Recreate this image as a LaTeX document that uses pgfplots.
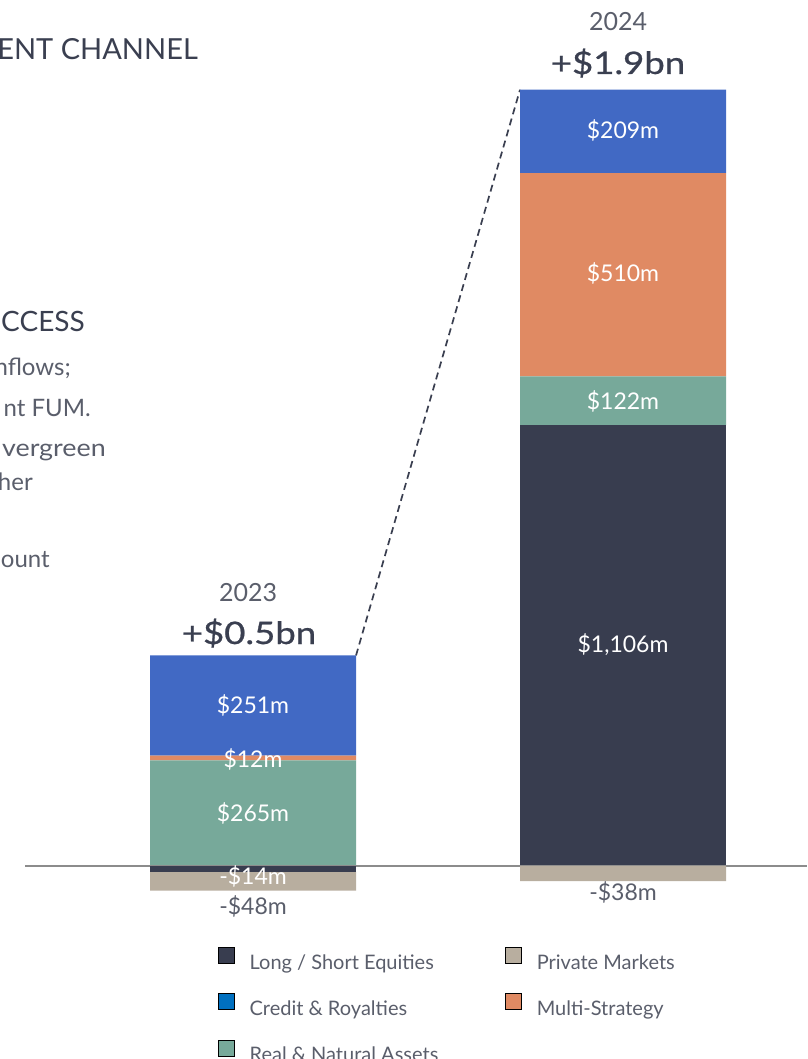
\documentclass[border=0pt]{standalone}
\usepackage{fontspec}
\setmainfont{Lato}
\newfontfamily\titlefont[FakeStretch=1.18, FakeBold=0.8]{Lato}
\newfontfamily\widebody[FakeStretch=1.12]{Lato}
\usepackage{pgfplots}
\usepackage{pgfplotstable}
\pgfplotsset{compat=1.18}
\definecolor{lsdark}{HTML}{383D4F}
\definecolor{credit}{HTML}{4169C4}
\definecolor{creditleg}{HTML}{0070C0}
\definecolor{multi}{HTML}{E08A63}
\definecolor{real}{HTML}{77A99A}
\definecolor{private}{HTML}{B8AE9F}
\definecolor{txtdark}{HTML}{3A3F50}
\definecolor{txtgrey}{HTML}{5A5E6B}
\definecolor{zeroline}{HTML}{8C8C8C}

% positive part of each stack (from 0 upward)
\pgfplotstableread{
x ls real multi credit
0 0 265 12 251
1 1106 122 510 209
}\postable
% negative part of each stack (from 0 downward)
\pgfplotstableread{
x ls private
0 -14 -48
1 0 -38
}\negtable

\pgfplotsset{base/.style={
  scale only axis, width=807pt, height=1059pt,
  xmin=-0.68378, xmax=1.49730, ymin=-484.1, ymax=2172.1,
  hide axis, ybar stacked, bar width=0.55676, clip=false}}

\begin{document}
\begin{tikzpicture}
\begin{axis}[base,
  legend columns=2,
  legend cell align=left,
  legend image code/.code={\fill[#1] (0pt,0pt) rectangle (16pt,16pt);},
  legend style={at={(0.27014,0.10576)}, anchor=north west, draw=none, fill=none,
    font=\fontsize{20}{24}\selectfont, text=txtgrey, inner sep=0pt,
    nodes={inner xsep=0pt, inner ysep=0pt, text height=16pt, text depth=4pt},
    /tikz/every odd column/.append style={column sep=15pt},
    /tikz/every even column/.append style={column sep=67pt}},
  legend style={row sep=20pt}]
  \draw[zeroline, line width=2pt] (axis cs:-0.6162,0) -- (axis cs:1.4973,0);
  \addplot[fill=lsdark, draw=none, forget plot] table[x=x,y=ls]{\postable};
  \addplot[fill=real, draw=none, forget plot] table[x=x,y=real]{\postable};
  \addplot[fill=multi, draw=none, forget plot] table[x=x,y=multi]{\postable};
  \addplot[fill=credit, draw=none, forget plot] table[x=x,y=credit]{\postable};
  \draw[txtdark, line width=1.7pt, dash pattern=on 7pt off 4.5pt]
    (axis cs:0.2784,528) -- (axis cs:0.7216,1947);
  \addlegendimage{fill=lsdark}
  \addlegendentry{Long / Short Equities}
  \addlegendimage{fill=private}
  \addlegendentry{Private Markets}
  \addlegendimage{fill=creditleg}
  \addlegendentry{Credit \& Royalties}
  \addlegendimage{fill=multi}
  \addlegendentry{Multi-Strategy}
  \addlegendimage{fill=real}
  \addlegendentry{Real \& Natural Assets}
\end{axis}
\begin{axis}[base]
  \addplot[fill=lsdark, draw=none] table[x=x,y=ls]{\negtable};
  \addplot[fill=private, draw=none] table[x=x,y=private]{\negtable};
\end{axis}
\pgfresetboundingbox
\path[use as bounding box] (current axis.south west) rectangle (current axis.north east);
\begin{scope}[shift={(current axis.north west)}, x=1pt, y=-1pt]
  % cropped slide text on the left
  \node[anchor=base east, text=txtdark, font=\fontsize{29}{33}\selectfont, inner sep=0pt] at (198,60) {ENT CHANNEL};
  \node[anchor=base east, text=txtdark, font=\fontsize{28}{32}\selectfont, inner sep=0pt] at (85,332) {CCESS};
  \begin{scope}[every node/.style={anchor=base east, text=txtgrey, font=\fontsize{24}{28}\selectfont, inner sep=0pt}]
    \node at (71,376) {nflows;};
    \node at (91,417) {nt FUM.};
    \node[font=\fontsize{24}{28}\widebody] at (106,456) {vergreen};
    \node at (33,490) {her};
    \node at (50,567) {ount};
  \end{scope}
  % years and totals
  \node[anchor=base, text=txtgrey, font=\fontsize{25}{30}\selectfont, inner sep=0pt] at (248,601) {2023};
  \node[anchor=base, text=txtdark, font=\fontsize{31}{36}\titlefont, inner sep=0pt] at (249,644) {+\$0.5bn};
  \node[anchor=base, text=txtgrey, font=\fontsize{25}{30}\selectfont, inner sep=0pt] at (618,31) {2024};
  \node[anchor=base, text=txtdark, font=\fontsize{31}{36}\titlefont, inner sep=0pt] at (618,74) {+\$1.9bn};
  % segment labels
  \begin{scope}[every node/.style={text=white, font=\fontsize{23}{27}\selectfont, inner sep=0pt}]
    \node at (623,130) {\$209m};
    \node at (623,273) {\$510m};
    \node at (623,401) {\$122m};
    \node at (623,645) {\$1,106m};
    \node at (253,705) {\$251m};
    \node at (253,759) {\$12m};
    \node at (253,813) {\$265m};
    \node at (253,876) {-\$14m};
  \end{scope}
  \node[text=txtgrey, font=\fontsize{23}{27}\selectfont, inner sep=0pt] at (253,906) {-\$48m};
  \node[text=txtgrey, font=\fontsize{23}{27}\selectfont, inner sep=0pt] at (623,892) {-\$38m};
\end{scope}
\end{tikzpicture}
\end{document}
